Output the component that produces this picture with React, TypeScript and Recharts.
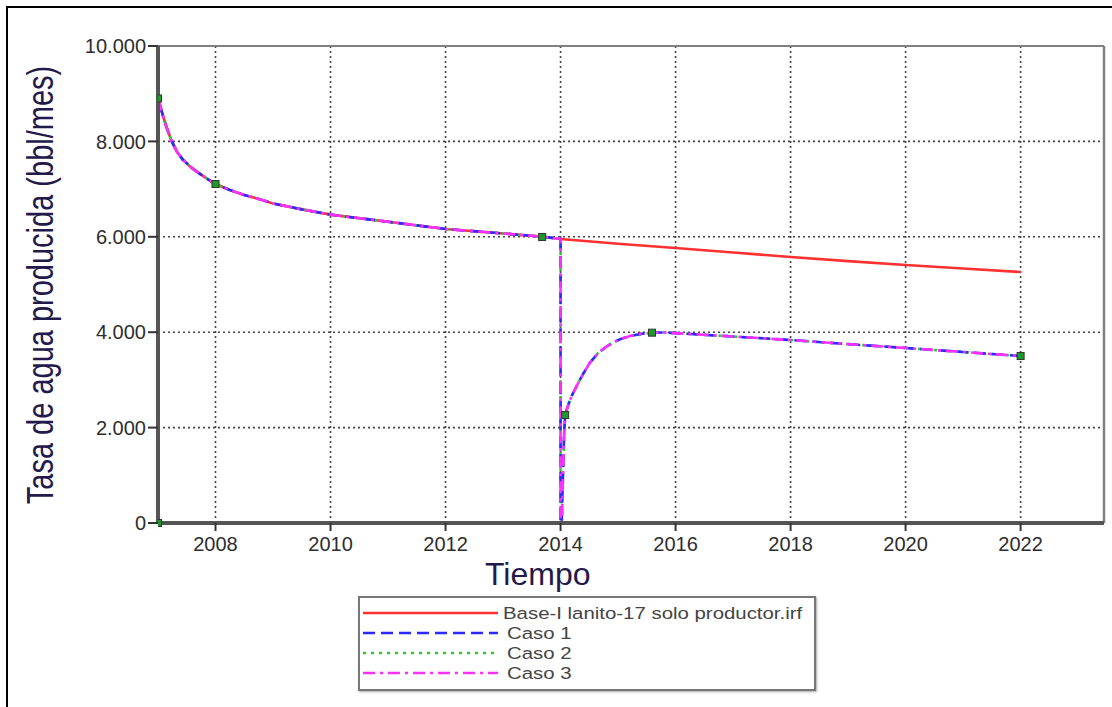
import React from "react";
import {
  ComposedChart,
  Line,
  Scatter,
  XAxis,
  YAxis,
  CartesianGrid,
  ReferenceLine,
} from "recharts";

// ---- data ----
const baseYears = [2007, 2007, 2007.03, 2007.08, 2007.15, 2007.24, 2007.33, 2007.43, 2007.58, 2007.73, 2007.87, 2008, 2008.25, 2008.5, 2008.75, 2009, 2009.5, 2010, 2011, 2012, 2013, 2013.7, 2014, 2015, 2016, 2017, 2018, 2019, 2020, 2021, 2022];
const baseValues = [0, 8900, 8780, 8560, 8290, 8000, 7780, 7620, 7450, 7320, 7205, 7107, 6980, 6876, 6795, 6700, 6575, 6465, 6315, 6164, 6070, 6000, 5954, 5855, 5765, 5670, 5577, 5490, 5409, 5335, 5262];

const caseYears = [2007, 2007, 2007.03, 2007.08, 2007.15, 2007.24, 2007.33, 2007.43, 2007.58, 2007.73, 2007.87, 2008, 2008.25, 2008.5, 2008.75, 2009, 2009.5, 2010, 2011, 2012, 2013, 2013.7, 2014, 2014, 2014.02, 2014.06, 2014.08, 2014.14, 2014.2, 2014.3, 2014.4, 2014.51, 2014.65, 2014.8, 2014.91, 2015.05, 2015.21, 2015.4, 2015.59, 2015.8, 2016, 2017, 2018, 2019, 2020, 2021, 2022];
const caseValues = [0, 8900, 8780, 8560, 8290, 8000, 7780, 7620, 7450, 7320, 7205, 7107, 6980, 6876, 6795, 6700, 6575, 6465, 6315, 6164, 6070, 6000, 5954, 0, 0, 1800, 2264, 2500, 2680, 2920, 3140, 3360, 3560, 3700, 3780, 3860, 3920, 3965, 3990, 3995, 3980, 3910, 3836, 3750, 3669, 3585, 3500];

const markerYears = [2007, 2007, 2008, 2013.68, 2014.08, 2015.59, 2022];
const markerValues = [0, 8900, 7107, 5996, 2264, 3990, 3500];

const xTicks = [2008, 2010, 2012, 2014, 2016, 2018, 2020, 2022];
const yTicks = [0, 2000, 4000, 6000, 8000, 10000];

const legendLabels = ["Base-I lanito-17 solo productor.irf", "Caso 1", "Caso 2", "Caso 3"];

const X_MAX = 2023.45;

const toPts = (xs: number[], ys: number[]) => xs.map((x, i) => ({ x, y: ys[i] }));
const baseData = toPts(baseYears, baseValues);
const caseData = toPts(caseYears, caseValues);
const markerData = toPts(markerYears, markerValues);

const fmt = (v: number) => {
  const s = String(Math.round(v));
  return s.replace(/\B(?=(\d{3})+(?!\d))/g, ".");
};

const FONT = "'Liberation Sans', Arial, sans-serif";

const series = [
  { color: "#ff3030", dash: undefined as string | undefined },
  { color: "#2a2aff", dash: "12 6" },
  { color: "#22d022", dash: "3 5" },
  { color: "#ff30ff", dash: "12 5 3 5" },
];

const MarkerShape = (props: any) => {
  const { cx, cy } = props;
  if (cx == null || cy == null) return null;
  return <rect x={cx - 3.5} y={cy - 3.5} width={7} height={7} fill="#1f9a2a" stroke="#2a3a2a" strokeWidth={1} />;
};

const tickStyle = { fontSize: 20, fill: "#2e2e2e", fontFamily: FONT };

export default function App() {
  return (
    <div style={{ position: "absolute", left: 0, top: 0, width: 1112, height: 707, overflow: "hidden", background: "#fff" }}>
      <div style={{ position: "absolute", left: 6, top: 6, width: 1300, height: 900, border: "2px solid #000" }} />
      <div style={{ position: "absolute", left: 0, top: 0 }}>
        <ComposedChart width={1112} height={707} margin={{ top: 46, right: 8, left: 98, bottom: 154 }}>
          <CartesianGrid stroke="#444" strokeDasharray="2 3" strokeWidth={1.6} />
          <XAxis
            type="number"
            dataKey="x"
            domain={[2007, X_MAX]}
            ticks={xTicks}
            allowDataOverflow
            height={30}
            tickSize={8}
            tickMargin={6}
            tick={tickStyle}
            tickLine={{ stroke: "#333", strokeWidth: 2 }}
            axisLine={{ stroke: "#555", strokeWidth: 4 }}
          />
          <YAxis
            type="number"
            dataKey="y"
            domain={[0, 10000]}
            ticks={yTicks}
            width={60}
            tickSize={10}
            tickMargin={2}
            tickFormatter={fmt}
            tick={tickStyle}
            tickLine={{ stroke: "#333", strokeWidth: 2 }}
            axisLine={{ stroke: "#555", strokeWidth: 4 }}
          />
          <ReferenceLine y={10000} stroke="#808080" strokeWidth={2} />
          <ReferenceLine x={X_MAX} stroke="#808080" strokeWidth={2.5} />
          <Line data={baseData} dataKey="y" type="linear" stroke={series[0].color} strokeWidth={2.6} dot={false} isAnimationActive={false} />
          <Line data={caseData} dataKey="y" type="linear" stroke={series[2].color} strokeWidth={2.6} strokeDasharray={series[2].dash} dot={false} isAnimationActive={false} />
          <Line data={caseData} dataKey="y" type="linear" stroke={series[1].color} strokeWidth={2.6} strokeDasharray={series[1].dash} dot={false} isAnimationActive={false} />
          <Line data={caseData} dataKey="y" type="linear" stroke={series[3].color} strokeWidth={2.6} strokeDasharray={series[3].dash} dot={false} isAnimationActive={false} />
          <Scatter data={markerData} dataKey="y" shape={MarkerShape} isAnimationActive={false} />
        </ComposedChart>
      </div>
      <svg width={1112} height={707} style={{ position: "absolute", left: 0, top: 0, pointerEvents: "none" }}>
        <text transform="translate(53 285) rotate(-90) scale(1 1.3)" x={0} y={0} textAnchor="middle" fontSize={29} fill="#231a4c" fontFamily={FONT}>
          Tasa de agua producida (bbl/mes)
        </text>
        <text x={485} y={585} fontSize={32} fill="#231a4c" fontFamily={FONT}>Tiempo</text>
      </svg>
      <div style={{ position: "absolute", left: 358, top: 596, width: 454, height: 91, border: "2px solid #777", boxShadow: "1px 1px 2px #aaa", background: "#fff" }}>
        <svg width={454} height={91}>
          {legendLabels.map((lab, i) => {
            const y = 15 + i * 20;
            const tx = i === 0 ? 143 : 147;
            return (
              <g key={lab}>
                <line x1={3} x2={138} y1={y} y2={y} stroke={series[i].color} strokeWidth={2.4} strokeDasharray={series[i].dash} />
                <text transform={`translate(${tx} ${y + 6}) scale(1.2 1)`} x={0} y={0} fontSize={17} fill="#444" fontFamily={FONT}>{lab}</text>
              </g>
            );
          })}
        </svg>
      </div>
    </div>
  );
}
